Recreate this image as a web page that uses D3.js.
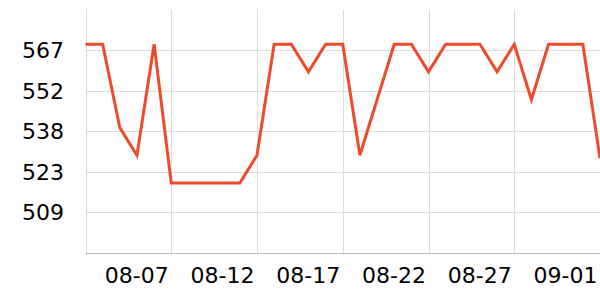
<!DOCTYPE html>
<html><head><meta charset="utf-8">
<script src="https://cdn.jsdelivr.net/npm/d3@7"></script>
<style>
html,body{margin:0;padding:0;background:#fff;}
svg{display:block;}
text{font-family:"DejaVu Sans",sans-serif;}
</style></head>
<body><svg id="chart" width="600" height="300"></svg>
<script>
const dates = ["08-02","08-03","08-04","08-05","08-06","08-07","08-08","08-09","08-10","08-11","08-12","08-13","08-14","08-15","08-16","08-17","08-18","08-19","08-20","08-21","08-22","08-23","08-24","08-25","08-26","08-27","08-28","08-29","08-30","08-31","09-01"];
const values = [569.2,569.2,539.3,529.4,569.2,519.4,519.4,519.4,519.4,519.4,529.4,569.2,569.2,559.3,569.2,569.2,529.4,549.3,569.2,569.2,559.3,569.2,569.2,569.2,559.3,569.2,549.3,569.2,569.2,569.2,528.3];
const yTicks = [509,523.5,538,552.5,567];
const xTickLabels = ["08-07","08-12","08-17","08-22","08-27","09-01"];
const yDomain = [494.5,581.5];

const svg = d3.select("#chart");
const m = {left:85.5, right:0, top:10, bottom:47.5};
const W = 600, H = 300;
const parse = d3.timeParse("%Y-%m-%d");
const toDate = s => parse((s.startsWith("09")?"2023-":"2023-")+s);
const x = d3.scaleTime().domain([toDate(dates[0]), toDate(dates[dates.length-1])]).range([m.left, W - m.right]);
const y = d3.scaleLinear().domain(yDomain).range([H - m.bottom, m.top]);

// horizontal grid
svg.append("g").selectAll("line").data(yTicks).join("line")
  .attr("x1", m.left).attr("x2", W)
  .attr("y1", d => Math.round(y(d))+0.5).attr("y2", d => Math.round(y(d))+0.5)
  .attr("stroke", "#dddddd").attr("stroke-width", 1);

// vertical grid
const xt = xTickLabels.map(toDate);
svg.append("g").selectAll("line").data([toDate(dates[0])].concat(xt)).join("line")
  .attr("x1", d => Math.round(x(d))+0.5).attr("x2", d => Math.round(x(d))+0.5)
  .attr("y1", m.top).attr("y2", H - m.bottom + 2)
  .attr("stroke", "#dddddd").attr("stroke-width", 1);

// y labels
svg.append("g").selectAll("text").data(yTicks).join("text")
  .attr("x", 64).attr("y", d => y(d)).attr("dy", "0.36em")
  .attr("text-anchor", "end").attr("font-size", 22).attr("fill", "#000")
  .text(d => Math.floor(d));

// x axis
const xAxis = d3.axisBottom(x).tickValues(xt).tickSize(0).tickFormat(d3.timeFormat("%m-%d"));
const gx = svg.append("g").attr("transform", `translate(0,${Math.round(H - m.bottom)+0.5})`).call(xAxis);
gx.select(".domain").attr("stroke", "#bbbbbb").attr("d", `M${m.left},0H${W}`);
gx.selectAll("text").attr("font-size", 22).attr("fill", "#000")
  .attr("font-family", "DejaVu Sans").attr("text-anchor", "end").attr("dx", "-3").attr("y", 14).attr("dy", "0.71em");

// line
const line = d3.line().x((d,i) => x(toDate(dates[i]))).y(d => y(d));
svg.append("path").datum(values).attr("d", line)
  .attr("fill", "none").attr("stroke", "#ee4b2e").attr("stroke-width", 3).attr("stroke-linejoin", "miter");
</script></body></html>
